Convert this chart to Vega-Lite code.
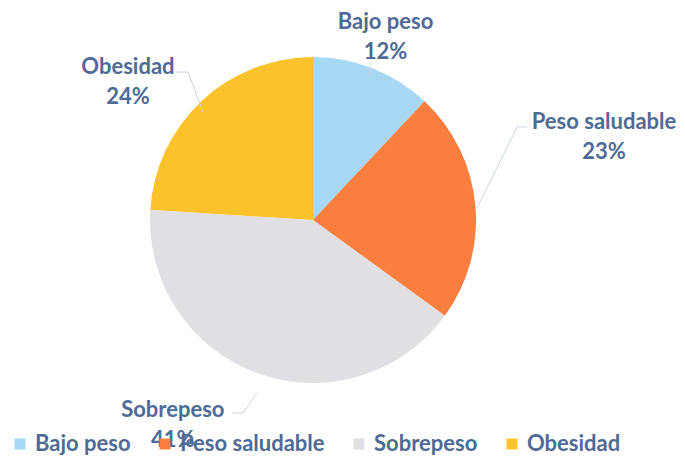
{
  "$schema": "https://vega.github.io/schema/vega-lite/v6.json",
  "width": 626,
  "height": 440,
  "autosize": {"type": "none"},
  "padding": {"left": 0, "top": 0, "right": 59, "bottom": 19},
  "background": "white",
  "config": {"view": {"stroke": null}},
  "datasets": {
    "slices": [
      {"categoria": "Bajo peso", "pct": 12, "ord": 1},
      {"categoria": "Peso saludable", "pct": 23, "ord": 2},
      {"categoria": "Sobrepeso", "pct": 41, "ord": 3},
      {"categoria": "Obesidad", "pct": 24, "ord": 4}
    ],
    "labels": [
      {"categoria": "Bajo peso", "texto": "Bajo peso\n12%", "ux": 0.445, "uy": 1.215},
      {"categoria": "Peso saludable", "texto": "Peso saludable\n23%", "ux": 1.785, "uy": 0.6},
      {"categoria": "Sobrepeso", "texto": "Sobrepeso\n41%", "ux": -0.86, "uy": -1.166},
      {"categoria": "Obesidad", "texto": "Obesidad\n24%", "ux": -1.135, "uy": 0.94}
    ],
    "leaders": [
      {"categoria": "Bajo peso", "k": 1, "ux": 0.35, "uy": 0.963},
      {"categoria": "Bajo peso", "k": 2, "ux": 0.35, "uy": 0.89},
      {"categoria": "Peso saludable", "k": 1, "ux": 1.313, "uy": 0.571},
      {"categoria": "Peso saludable", "k": 2, "ux": 1.252, "uy": 0.571},
      {"categoria": "Peso saludable", "k": 3, "ux": 1.006, "uy": 0.074},
      {"categoria": "Obesidad", "k": 1, "ux": -0.847, "uy": 0.908},
      {"categoria": "Obesidad", "k": 2, "ux": -0.767, "uy": 0.908},
      {"categoria": "Obesidad", "k": 3, "ux": -0.675, "uy": 0.663},
      {"categoria": "Sobrepeso", "k": 1, "ux": -0.497, "uy": -1.184},
      {"categoria": "Sobrepeso", "k": 2, "ux": -0.429, "uy": -1.184},
      {"categoria": "Sobrepeso", "k": 3, "ux": -0.344, "uy": -1.061}
    ]
  },
  "layer": [
    {
      "data": {"name": "slices"},
      "mark": {"type": "arc", "outerRadius": 163, "stroke": null},
      "encoding": {
        "theta": {"field": "pct", "type": "quantitative", "stack": true},
        "order": {"field": "ord", "type": "quantitative"},
        "color": {
          "field": "categoria",
          "type": "nominal",
          "scale": {
            "domain": ["Bajo peso", "Peso saludable", "Sobrepeso", "Obesidad"],
            "range": ["#a8d7f4", "#fa7e3d", "#e1dfe3", "#fbc22b"]
          },
          "sort": ["Bajo peso", "Peso saludable", "Sobrepeso", "Obesidad"],
          "legend": {
            "title": null,
            "orient": "none",
            "legendX": 9,
            "legendY": 433,
            "direction": "horizontal",
            "symbolType": "square",
            "symbolSize": 120,
            "symbolStrokeWidth": 0,
            "labelFont": "Lato",
            "labelFontWeight": "bold",
            "labelFontSize": 22,
            "labelColor": "#4e6a97",
            "labelOffset": 4,
            "columnPadding": 23,
            "padding": 0
          }
        }
      }
    },
    {
      "data": {"name": "leaders"},
      "mark": {"type": "line", "stroke": "#c9d3e2", "strokeWidth": 1},
      "encoding": {
        "x": {"field": "ux", "type": "quantitative", "scale": {"domain": [-1.92, 1.92]}, "axis": null},
        "y": {"field": "uy", "type": "quantitative", "scale": {"domain": [-1.35, 1.35]}, "axis": null},
        "detail": {"field": "categoria"},
        "order": {"field": "k", "type": "quantitative"}
      }
    },
    {
      "data": {"name": "labels"},
      "mark": {
        "type": "text",
        "font": "Lato",
        "fontWeight": "bold",
        "fontSize": 22,
        "fill": "#4e6a97",
        "lineBreak": "\n",
        "lineHeight": 30,
        "align": "center",
        "baseline": "middle"
      },
      "encoding": {
        "x": {"field": "ux", "type": "quantitative", "scale": {"domain": [-1.92, 1.92]}, "axis": null},
        "y": {"field": "uy", "type": "quantitative", "scale": {"domain": [-1.35, 1.35]}, "axis": null},
        "text": {"field": "texto"}
      }
    }
  ]
}
